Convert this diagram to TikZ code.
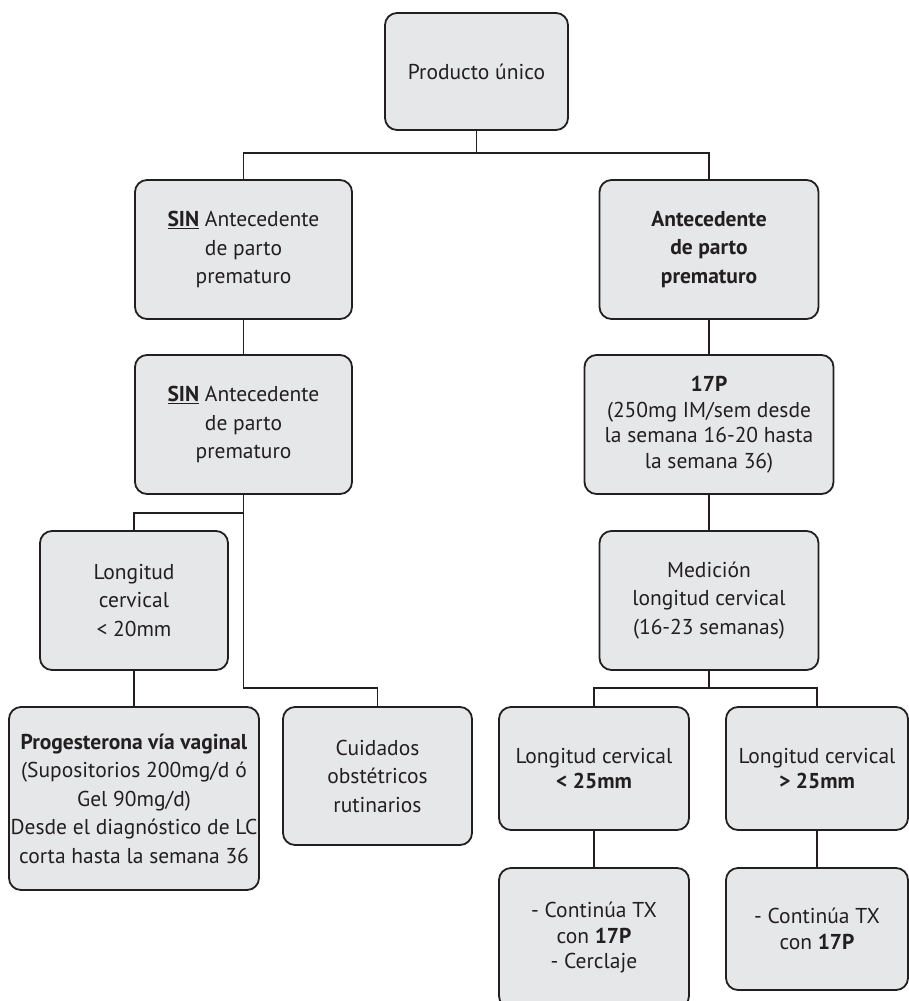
\documentclass[tikz,border=0pt]{standalone}
\usepackage{fontspec}
\setmainfont{PT Sans}
\definecolor{boxfill}{HTML}{E6E7E8}
\definecolor{ink}{HTML}{231F20}
\begin{document}
\begin{tikzpicture}[x=1pt,y=-1pt,
  flowbox/.style={draw=ink, line width=1.8pt, fill=boxfill, rounded corners=12pt,
    align=center, inner sep=0pt, text=ink,
    font=\fontsize{21.5}{28.5}\selectfont},
  tight/.style={font=\fontsize{21.5}{25.5}\selectfont},
  link/.style={draw=ink, line width=1.5pt}]
\useasboundingbox (0,0) rectangle (909,1001);
\clip (0,0) rectangle (909,1001);
% nodes
\node[flowbox, minimum width=183pt, minimum height=117pt] (prod) at (476.5,71.5) {Producto único};
\node[flowbox, minimum width=217pt, minimum height=139pt] (sin1) at (243.5,249.5)
  {\underline{\textbf{SIN}} Antecedente\\de parto\\prematuro};
\node[flowbox, minimum width=219pt, minimum height=139pt] (ant) at (709,249.5)
  {\textbf{Antecedente}\\\textbf{de parto}\\\textbf{prematuro}};
\node[flowbox, minimum width=217pt, minimum height=139pt] (sin2) at (243.5,424.5)
  {\underline{\textbf{SIN}} Antecedente\\de parto\\prematuro};
\node[flowbox, tight, minimum width=249pt, minimum height=139pt] (p17) at (709,424.5)
  {\textbf{17P}\\(250mg IM/sem desde\\la semana 16-20 hasta\\la semana 36)};
\node[flowbox, minimum width=188pt, minimum height=139pt] (lon) at (134,600.5)
  {Longitud\\cervical\\< 20mm};
\node[flowbox, minimum width=219pt, minimum height=139pt] (med) at (709,600.5)
  {Medición\\longitud cervical\\(16-23 semanas)};
\node[flowbox, minimum width=250pt, minimum height=183pt] (prog) at (134,798.5)
  {\textbf{Progesterona vía vaginal}\\(Supositorios 200mg/d ó\\Gel 90mg/d)\\Desde el diagnóstico de LC\\corta hasta la semana 36};
\node[flowbox, minimum width=189pt, minimum height=138pt] (cuid) at (377.5,776)
  {Cuidados\\obstétricos\\rutinarios};
\node[flowbox, tight, minimum width=190pt, minimum height=123pt] (lt25) at (594,768.5)
  {Longitud cervical\\\textbf{< 25mm}};
\node[flowbox, tight, minimum width=182pt, minimum height=123pt] (gt25) at (817,768.5)
  {Longitud cervical\\\textbf{> 25mm}};
\node[flowbox, tight, minimum width=190pt, minimum height=140pt] (c1) at (594,938)
  {- Continúa TX\\con \textbf{17P}\\- Cerclaje};
\node[flowbox, tight, minimum width=182pt, minimum height=122pt] (c2) at (817,929)
  {- Continúa TX\\con \textbf{17P}};
% junctions
\coordinate (j1) at (476.5,153);
\coordinate (j2) at (243.5,513);
\coordinate (j3) at (377.5,688);
\coordinate (j4) at (709,688);
% connectors
\draw[link] (prod.south) -- (j1);
\draw[link] (sin1.north) |- (j1) -| (ant.north);
\draw[link] (sin1.south) -- (sin2.north);
\draw[link] (sin2.south) |- (j3) -- (cuid.north);
\draw[link] (j2) -| (lon.north);
\draw[link] (lon.south) -- (prog.north);
\draw[link] (ant.south) -- (p17.north);
\draw[link] (p17.south) -- (med.north);
\draw[link] (med.south) -- (j4);
\draw[link] (lt25.north) |- (j4) -| (gt25.north);
\draw[link] (lt25.south) -- (c1.north);
\draw[link] (gt25.south) -- (c2.north);
\end{tikzpicture}
\end{document}
